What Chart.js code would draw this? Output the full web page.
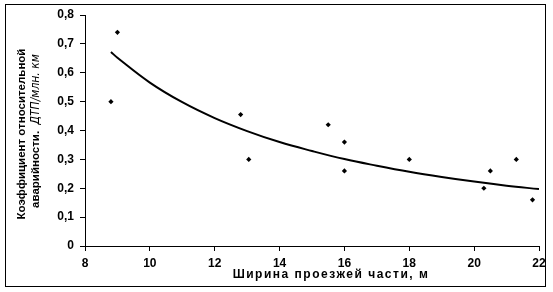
<!DOCTYPE html>
<html>
<head>
<meta charset="utf-8">
<script src="https://cdn.jsdelivr.net/npm/chart.js@4.4.1/dist/chart.umd.min.js"></script>
<style>
    html, body { margin: 0; padding: 0; background: #fff; }
    #wrap { width: 553px; height: 292px; position: relative; }
</style>
</head>
<body>
<div id="wrap"><canvas id="accidentChart" width="553" height="292"></canvas></div>
<script>
// Observed points: road width (m) vs. relative accident rate
const widthX = [8.8, 9.0, 12.8, 13.05, 15.5, 16.0, 16.0, 18.0, 20.3, 20.5, 21.3, 21.8];
const rateY  = [0.50, 0.74, 0.455, 0.30, 0.42, 0.36, 0.26, 0.30, 0.20, 0.26, 0.30, 0.16];

// Trend curve
const trendX = [8.8, 9, 10, 11, 12, 13, 14, 15, 16, 17, 18, 19, 20, 21, 22];
const trendY = [0.672, 0.652, 0.566, 0.498, 0.443, 0.398, 0.360, 0.329, 0.301, 0.278, 0.257, 0.239, 0.223, 0.209, 0.197];

const xTicks = [8, 10, 12, 14, 16, 18, 20, 22];
const yTicks = [0, 0.1, 0.2, 0.3, 0.4, 0.5, 0.6, 0.7, 0.8];

const xTitle = 'Ширина проезжей части, м';
const yTitle1 = 'Коэффициент относительной';
const yTitle2a = 'аварийности.  ';
const yTitle2b = 'ДТП/млн. км';

const tickFont = { family: 'Liberation Sans, Arial, sans-serif', size: 12, weight: 'bold' };
const boldFont = 'bold 11.5px "Liberation Sans", Arial, sans-serif';
const italicFont = 'italic 12px "Liberation Sans Narrow", "DejaVu Sans Condensed", sans-serif';

// frame + hand drawn axis titles (mixed fonts in the y title)
const framePlugin = {
    id: 'frame',
    beforeDraw(chart) {
        const c = chart.ctx;
        c.save();
        c.fillStyle = '#fff';
        c.fillRect(0, 0, chart.width, chart.height);
        c.restore();
    },
    afterDraw(chart) {
        const c = chart.ctx;
        c.save();
        c.strokeStyle = '#000';
        c.lineWidth = 1;
        c.strokeRect(5.5, 4.5, 540, 282);

        // x title
        c.fillStyle = '#000';
        c.font = 'bold 12px "Liberation Sans", Arial, sans-serif';
        c.letterSpacing = '1.5px';
        c.textAlign = 'center';
        c.textBaseline = 'middle';
        c.fillText(xTitle, 331, 275);
        c.letterSpacing = '0px';

        // y title, rotated
        c.font = boldFont;
        c.translate(22, 134);
        c.rotate(-Math.PI / 2);
        c.fillText(yTitle1, 0, 0);
        c.restore();

        c.save();
        c.translate(36, 131);
        c.rotate(-Math.PI / 2);
        c.fillStyle = '#000';
        c.textBaseline = 'middle';
        c.font = boldFont;
        const w1 = c.measureText(yTitle2a).width;
        c.font = italicFont;
        const w2 = c.measureText(yTitle2b).width;
        let x0 = -(w1 + w2) / 2;
        c.textAlign = 'left';
        c.font = boldFont;
        c.fillText(yTitle2a, x0, 0);
        c.font = italicFont;
        c.fillText(yTitle2b, x0 + w1, 0);
        c.restore();
    }
};

function fmtComma(v) {
    return v === 0 ? '0' : v.toFixed(1).replace('.', ',');
}

new Chart(document.getElementById('accidentChart').getContext('2d'), {
    type: 'scatter',
    data: {
        datasets: [{
            label: 'Наблюдения',
            data: widthX.map((x, i) => ({ x: x, y: rateY[i] })),
            pointStyle: 'rectRot',
            pointRadius: 2.6,
            backgroundColor: '#000',
            borderColor: '#000',
            borderWidth: 0,
            showLine: false
        }, {
            label: 'Тренд',
            data: trendX.map((x, i) => ({ x: x, y: trendY[i] })),
            showLine: true,
            borderColor: '#000',
            borderWidth: 2,
            pointRadius: 0,
            tension: 0.4,
            fill: false
        }]
    },
    options: {
        responsive: false,
        animation: false,
        layout: { padding: { left: 0, top: 15, right: 14, bottom: 0 } },
        plugins: {
            legend: { display: false },
            tooltip: { enabled: false }
        },
        scales: {
            x: {
                type: 'linear',
                min: 8,
                max: 22,
                afterBuildTicks: (scale) => { scale.ticks = xTicks.map(v => ({ value: v })); },
                afterFit: (scale) => { scale.height = 46; },
                grid: { drawOnChartArea: false, drawTicks: true, tickLength: 5, color: '#000', lineWidth: 1 },
                border: { display: true, color: '#000', width: 1 },
                ticks: { color: '#000', font: tickFont, padding: 5, maxRotation: 0 }
            },
            y: {
                min: 0,
                max: 0.8,
                afterBuildTicks: (scale) => { scale.ticks = yTicks.map(v => ({ value: v })); },
                afterFit: (scale) => { scale.width = 85; },
                grid: { drawOnChartArea: false, drawTicks: true, tickLength: 5, color: '#000', lineWidth: 1 },
                border: { display: true, color: '#000', width: 1 },
                ticks: { color: '#000', font: tickFont, padding: 6, callback: (v) => fmtComma(v) }
            }
        }
    },
    plugins: [framePlugin]
});
</script>
</body>
</html>
